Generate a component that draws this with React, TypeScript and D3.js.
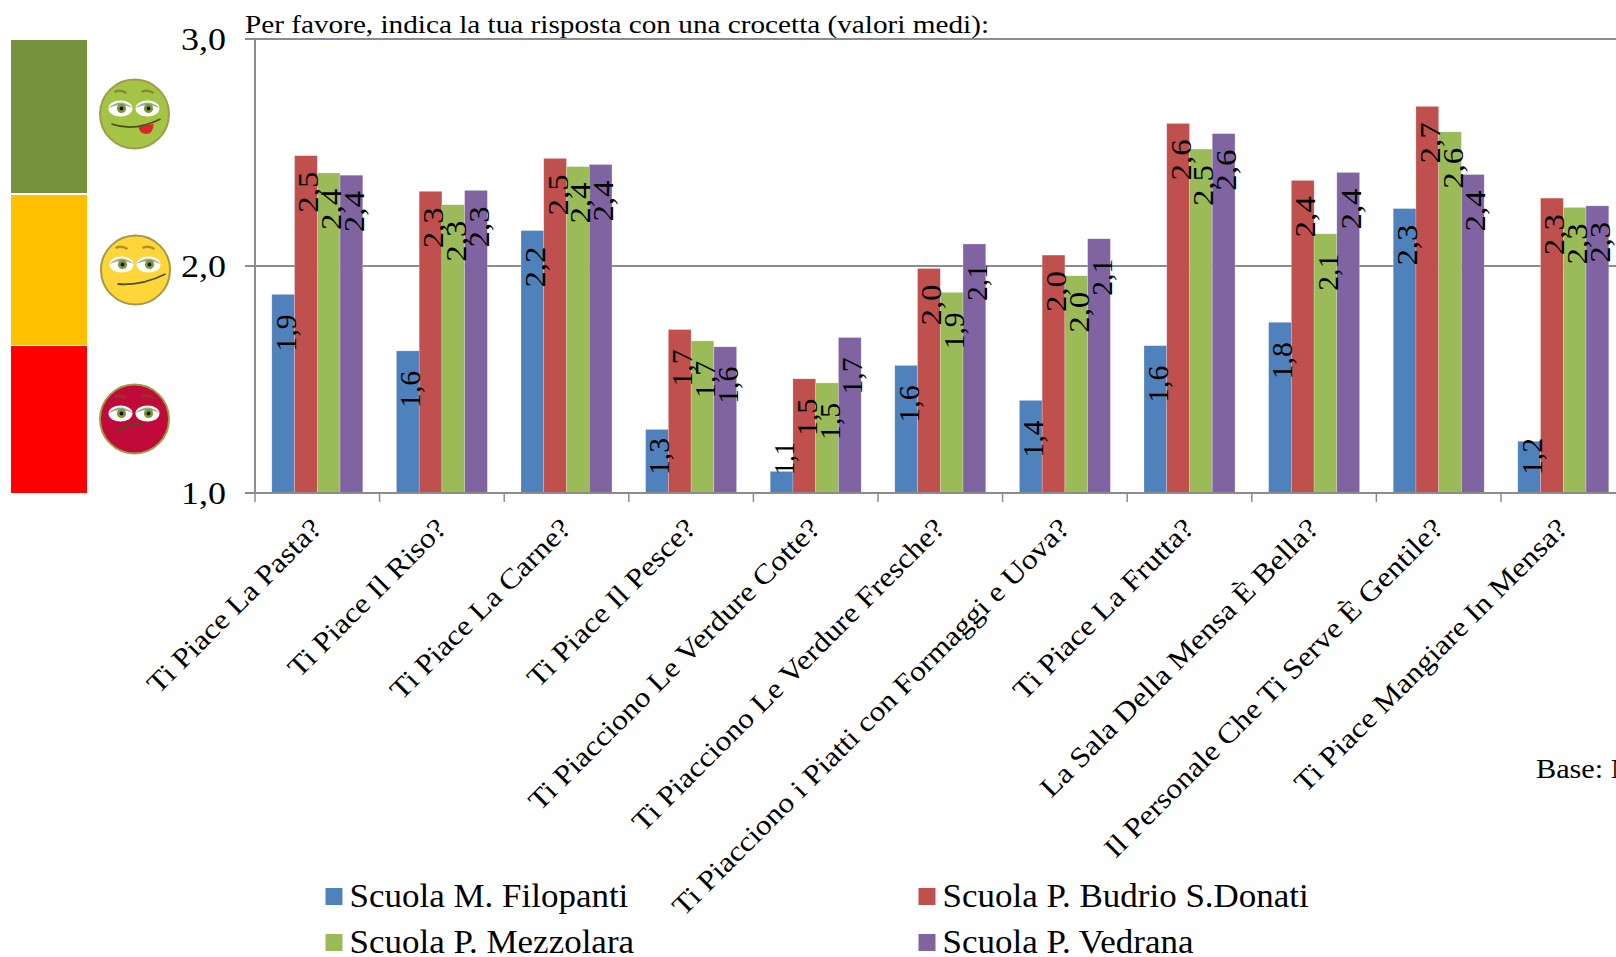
import React from "react";
import * as d3 from "d3";

const categories = [
  "Ti Piace La Pasta?",
  "Ti Piace Il Riso?",
  "Ti Piace La Carne?",
  "Ti Piace Il Pesce?",
  "Ti Piacciono Le Verdure Cotte?",
  "Ti Piacciono Le Verdure Fresche?",
  "Ti Piacciono i Piatti con Formaggi e Uova?",
  "Ti Piace La Frutta?",
  "La Sala Della Mensa È Bella?",
  "Il Personale Che Ti Serve È Gentile?",
  "Ti Piace Mangiare In Mensa?",
];
const seriesNames = ["Scuola M. Filopanti", "Scuola P. Budrio S.Donati", "Scuola P. Mezzolara", "Scuola P. Vedrana"];
const seriesColors = ["#4F81BD", "#C0504D", "#9BBB59", "#8064A2"];
const filopanti = [1.875, 1.626, 2.156, 1.28, 1.095, 1.562, 1.408, 1.649, 1.752, 2.253, 1.228];
const budrio = [2.486, 2.329, 2.474, 1.72, 1.503, 1.989, 2.048, 2.628, 2.377, 2.703, 2.299];
const mezzolara = [2.41, 2.27, 2.438, 1.67, 1.485, 1.884, 1.957, 2.515, 2.142, 2.591, 2.258];
const vedrana = [2.40, 2.333, 2.447, 1.644, 1.685, 2.097, 2.12, 2.583, 2.412, 2.403, 2.265];
const seriesValues = [filopanti, budrio, mezzolara, vedrana];
const yTicks = [1, 2, 3];
const titleText = "Per favore, indica la tua risposta con una crocetta (valori medi):";
const baseText = "Base: N";

const FONT = "'Liberation Serif', serif";
const AXIS = "#8c8c8c";
const WIDTH = 1616;
const HEIGHT = 957;
const left = 255;
const step = 124.6;
const yScale = d3.scaleLinear().domain([1, 3]).range([493, 39]);
const xScale = d3.scaleBand<string>().domain(categories).range([left, left + step * categories.length]).paddingInner(0.27).paddingOuter(0.135);
const xInner = d3.scaleBand<string>().domain(seriesNames).range([0, xScale.bandwidth()]);
const fmt = (v: number) => d3.format(".1f")(v).replace(".", ",");
const labelLength = (s: string) => (s[0] === "1" ? 12 : 16) + 9 + (s[2] === "1" ? 12 : 16);

const bands = [
  { y0: 40, y1: 193, fill: "#76923C" },
  { y0: 195, y1: 345, fill: "#FFC000" },
  { y0: 346, y1: 493, fill: "#FF0000" },
];

function Face({ cx, cy, fill, mouth, tongue }: { cx: number; cy: number; fill: string; mouth: string; tongue?: boolean }) {
  const eye = (dx: number) => (
    <g key={dx}>
      <ellipse cx={dx} cy={-5.5} rx={12} ry={8} fill="#fff" />
      <path d={`M${dx - 12},-6 Q${dx},-17 ${dx + 12},-6 Q${dx},-12 ${dx - 12},-6 Z`} fill="#5a5a30" opacity={0.55} />
      <circle cx={dx + 1} cy={-5.5} r={4.6} fill="#7a9a2e" />
      <circle cx={dx + 1} cy={-5.5} r={1.9} fill="#111" />
      <path d={`M${dx - 6},-22 Q${dx},-25 ${dx + 6},-21`} fill="none" stroke="#6b5a1f" strokeWidth={2.4} opacity={0.55} />
    </g>
  );
  return (
    <g transform={`translate(${cx},${cy})`}>
      <circle r={34.5} fill={fill} stroke="#a39a45" strokeWidth={2} />
      {eye(-14)}
      {eye(13)}
      {tongue && <path d="M4,13 Q16,10 19,10 Q19,20 11,20 Q5,19 4,13 Z" fill="#D8262C" />}
      <path d={mouth} fill="none" stroke="#4f4f1e" strokeWidth={1.8} />
    </g>
  );
}

export default function App() {
  return (
    <svg width={WIDTH} height={HEIGHT} viewBox={`0 0 ${WIDTH} ${HEIGHT}`} style={{ position: "absolute", left: 0, top: 0, display: "block", background: "#fff" }} fontFamily={FONT}>
      {bands.map((b) => (
        <rect key={b.fill} x={11} y={b.y0} width={76} height={b.y1 - b.y0} fill={b.fill} />
      ))}
      <Face cx={134.5} cy={114} fill="#A4C445" mouth="M-23,10 Q0,18 26,5" tongue />
      <Face cx={135.5} cy={270} fill="#FFD63A" mouth="M-18,14 Q6,16 30,4" />
      <Face cx={134.5} cy={419} fill="#C00A3A" mouth="M-18,13 Q-4,2 9,6" />

      <text x={245} y={33} fontSize={26} textLength={744} lengthAdjust="spacingAndGlyphs">{titleText}</text>

      {yTicks.map((t) => (
        <g key={t}>
          <line x1={245} x2={WIDTH} y1={yScale(t)} y2={yScale(t)} stroke={AXIS} strokeWidth={2} />
          <text x={226} y={yScale(t) + 11} textAnchor="end" fontSize={31} textLength={45} lengthAdjust="spacingAndGlyphs">{fmt(t)}</text>
        </g>
      ))}
      <line x1={left} x2={left} y1={yScale(3)} y2={yScale(1)} stroke={AXIS} strokeWidth={2} />
      {categories.map((_, i) => (
        <line key={i} x1={left + step * i} x2={left + step * i} y1={yScale(1)} y2={yScale(1) + 9} stroke={AXIS} strokeWidth={1.5} />
      ))}

      {categories.map((c, i) =>
        seriesNames.map((s, k) => (
          <rect key={s + c} x={xScale(c)! + xInner(s)!} y={yScale(seriesValues[k][i])} width={xInner.bandwidth()} height={yScale(1) - yScale(seriesValues[k][i])} fill={seriesColors[k]} stroke="#fff" strokeOpacity={0.35} strokeWidth={0.6} />
        ))
      )}
      <line x1={left} x2={WIDTH} y1={yScale(1)} y2={yScale(1)} stroke={AXIS} strokeWidth={2} />

      {categories.map((c, i) =>
        seriesNames.map((s, k) => {
          const v = seriesValues[k][i];
          const label = fmt(v);
          const bx = xScale(c)! + xInner(s)! + xInner.bandwidth() / 2 + 12.5;
          const by = Math.min(yScale(v) + 57, 475);
          return (
            <text key={s + c} transform={`translate(${bx},${by}) rotate(-90)`} fontSize={30} textLength={labelLength(label)} lengthAdjust="spacingAndGlyphs" fill="#000">{label}</text>
          );
        })
      )}

      {categories.map((c) => (
        <text key={c} transform={`translate(${xScale(c)! + xScale.bandwidth() / 2 + 6},530) rotate(-45) scale(1.13,1)`} textAnchor="end" fontSize={28}>{c}</text>
      ))}

      <text transform="translate(1536,778) scale(1.08,1)" fontSize={28}>{baseText}</text>

      {seriesNames.map((s, k) => {
        const col = k % 2;
        const row = k >> 1;
        const sx = col === 0 ? 325.5 : 918.5;
        const sy = row === 0 ? 888 : 934;
        return (
          <g key={s}>
            <rect x={sx} y={sy} width={17} height={17} fill={seriesColors[k]} />
            <text transform={`translate(${sx + 24},${sy + 18.5}) scale(1.06,1)`} fontSize={33}>{s}</text>
          </g>
        );
      })}
    </svg>
  );
}
